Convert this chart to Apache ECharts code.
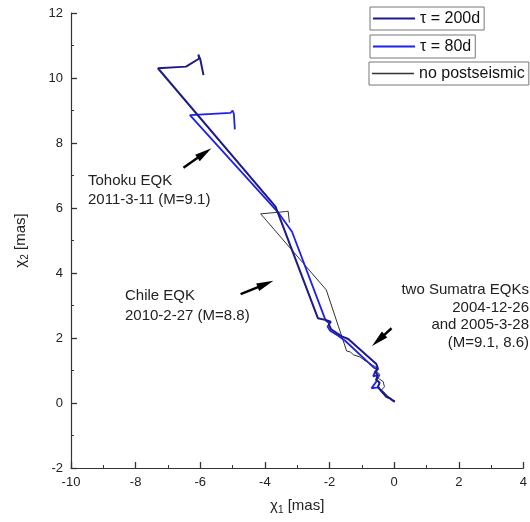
<!DOCTYPE html>
<html>
<head>
<meta charset="utf-8">
<script src="https://cdn.jsdelivr.net/npm/echarts@6/dist/echarts.min.js"></script>
<style>
  html, body { margin: 0; padding: 0; background: #fff; }
  #chart { width: 530px; height: 522px; }
</style>
</head>
<body>
<div id="chart"></div>
<script>
// Axis tick labels
const xTickLabels = [-10, -8, -6, -4, -2, 0, 2, 4];
const yTickLabels = [-2, 0, 2, 4, 6, 8, 10, 12];

// Series names
const seriesNames = ['τ = 200d', 'τ = 80d', 'no postseismic'];

// Cumulative excitation path (χ1, χ2) in mas, postseismic relaxation τ = 200 days
const tau200 = [
  [0.02, 0.04], [-0.06, 0.09], [-0.15, 0.16], [-0.24, 0.20], [-0.33, 0.30],
  [-0.42, 0.40], [-0.50, 0.50], [-0.45, 0.62], [-0.56, 0.72], [-0.50, 0.85],
  [-0.58, 0.95], [-0.50, 1.05], [-0.55, 1.20],
  [-1.42, 1.97], [-1.62, 2.05], [-1.95, 2.27], [-2.02, 2.42], [-1.96, 2.50],
  [-2.10, 2.55], [-2.36, 2.61],
  [-3.67, 6.04], [-7.31, 10.30], [-6.44, 10.35], [-6.03, 10.60], [-6.06, 10.72],
  [-6.00, 10.58], [-5.90, 10.09]
];

// Same path with τ = 80 days
const tau80 = [
  [0.02, 0.04], [-0.03, 0.09], [-0.13, 0.14], [-0.24, 0.19], [-0.34, 0.30],
  [-0.50, 0.48], [-0.70, 0.45], [-0.55, 0.66], [-0.50, 0.86], [-0.65, 0.82],
  [-0.58, 0.98], [-0.52, 1.06], [-0.58, 1.12], [-0.62, 1.08],
  [-1.50, 1.90], [-1.72, 2.06], [-1.98, 2.22], [-2.06, 2.35], [-2.00, 2.45],
  [-2.10, 2.52], [-2.15, 2.62],
  [-3.16, 5.27], [-3.57, 5.84], [-6.32, 8.86], [-5.06, 8.93], [-5.00, 9.00],
  [-4.96, 8.90], [-4.93, 8.42]
];

// Coseismic steps only
const noPost = [
  [0.00, 0.04], [-0.03, 0.09], [-0.18, 0.19], [-0.28, 0.30], [-0.39, 0.40],
  [-0.30, 0.50], [-0.34, 0.66], [-0.49, 0.76], [-0.44, 0.88], [-0.56, 0.98],
  [-0.52, 1.08], [-0.66, 1.16], [-0.75, 1.22], [-0.90, 1.30], [-1.06, 1.42],
  [-1.00, 1.47], [-1.26, 1.48], [-1.35, 1.57], [-1.47, 1.60],
  [-2.10, 3.48], [-4.13, 5.82], [-3.36, 5.89], [-3.28, 5.90], [-3.24, 5.55]
];

const FONT = '"Liberation Sans", Arial, sans-serif';
const NAVY = '#1c1c86';
const BLUE = '#1f1ff0';
const GREY = '#333';
const chart = echarts.init(document.getElementById('chart'), null, { renderer: 'canvas' });

function legendBox(name, left, top, lineH) {
  return {
    data: [name], left: left, top: top,
    orient: 'horizontal',
    icon: 'rect',
    itemWidth: 42,
    itemHeight: lineH,
    itemGap: 0,
    padding: [3, 4, 3, 3],
    borderColor: '#777',
    borderWidth: 1,
    selectedMode: false,
    textStyle: { fontSize: 16, color: '#111', fontFamily: FONT, lineHeight: 17 }
  };
}

function axisCommon(labels) {
  return {
    type: 'value',
    min: labels[0],
    max: labels[labels.length - 1],
    interval: labels[1] - labels[0],
    axisLine: { show: true, onZero: false, lineStyle: { color: '#333', width: 1.2 } },
    axisTick: { show: true, inside: true, length: 6, lineStyle: { color: '#333', width: 1.3 } },
    minorTick: { show: true, splitNumber: 2, length: 3, lineStyle: { color: '#333', width: 1 } },
    splitLine: { show: false },
    axisLabel: { color: '#222', fontSize: 13, fontFamily: FONT }
  };
}

const nameRich = {
  a: { fontSize: 15, fontFamily: FONT, color: '#222', lineHeight: 20, verticalAlign: 'middle' },
  s: { fontSize: 10, fontFamily: FONT, color: '#222', lineHeight: 20, padding: [9, 0, 0, 0] }
};

chart.setOption({
  animation: false,
  backgroundColor: '#fff',
  grid: { left: 71, right: 4, top: 13, bottom: 54, containLabel: false },
  xAxis: Object.assign(axisCommon(xTickLabels), {
    name: '{a|χ}{s|1}{a| [mas]}',
    nameLocation: 'middle',
    nameGap: 28,
    nameTextStyle: { rich: nameRich }
  }),
  yAxis: Object.assign(axisCommon(yTickLabels), {
    name: '{a|χ}{s|2}{a| [mas]}',
    nameLocation: 'middle',
    nameGap: 40,
    nameRotate: 90,
    nameTextStyle: { rich: nameRich }
  }),
  legend: [
    legendBox(seriesNames[0], 370, 7, 2),
    legendBox(seriesNames[1], 370, 35, 2),
    legendBox(seriesNames[2], 369, 62, 1.3)
  ],
  series: [
    {
      name: seriesNames[2], type: 'line', data: noPost, symbol: 'none',
      lineStyle: { color: GREY, width: 1 }, itemStyle: { color: GREY },
      silent: true, z: 2,
      markLine: {
        silent: true,
        symbol: ['none', 'triangle'],
        symbolSize: [8, 17],
        label: { show: false },
        itemStyle: { color: '#000' },
        lineStyle: { color: '#000', width: 2.4, type: 'solid' },
        emphasis: { disabled: true },
        data: [
          [{ coord: [-6.52, 7.24] }, { coord: [-5.87, 7.69] }],
          [{ coord: [-4.75, 3.35] }, { coord: [-3.98, 3.66] }],
          [{ coord: [-0.08, 2.30] }, { coord: [-0.49, 1.93] }]
        ]
      }
    },
    {
      name: seriesNames[0], type: 'line', data: tau200, symbol: 'none',
      lineStyle: { color: NAVY, width: 2 }, itemStyle: { color: NAVY },
      silent: true, z: 4
    },
    {
      name: seriesNames[1], type: 'line', data: tau80, symbol: 'none',
      lineStyle: { color: BLUE, width: 1.8 }, itemStyle: { color: BLUE },
      silent: true, z: 3
    }
  ],
  graphic: [
    {
      type: 'text', left: 88, top: 171, silent: true,
      style: { text: 'Tohoku EQK\n2011-3-11 (M=9.1)', font: '15px ' + FONT, fill: '#222', lineHeight: 19 }
    },
    {
      type: 'text', left: 125, top: 286, silent: true,
      style: { text: 'Chile EQK\n2010-2-27 (M=8.8)', font: '15px ' + FONT, fill: '#222', lineHeight: 20 }
    },
    {
      type: 'text', x: 529, y: 281, silent: true,
      style: {
        text: 'two Sumatra EQKs\n2004-12-26\nand 2005-3-28\n(M=9.1, 8.6)',
        font: '15px ' + FONT, fill: '#222', lineHeight: 17.7, align: 'right', verticalAlign: 'top'
      }
    }
  ]
});
</script>
</body>
</html>
